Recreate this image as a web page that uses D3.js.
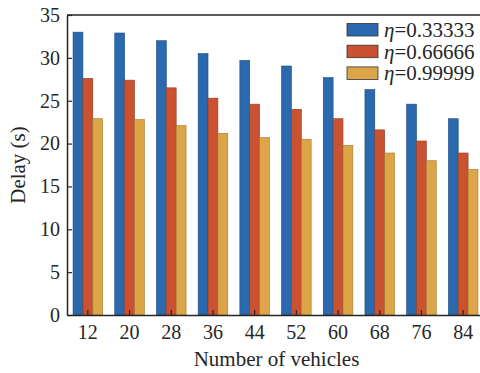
<!DOCTYPE html>
<html>
<head>
<meta charset="utf-8">
<script src="https://cdn.jsdelivr.net/npm/d3@7"></script>
<style>
  body { margin: 0; background: #fff; }
  svg { display: block; font-family: "Liberation Serif", "Times New Roman", serif; }
</style>
</head>
<body>
<svg id="chart" width="480" height="373"></svg>
<script>
var vehicles = [12, 20, 28, 36, 44, 52, 60, 68, 76, 84];
var seriesNames = ["0.33333", "0.66666", "0.99999"];
var delay1 = [33.0, 32.9, 32.0, 30.5, 29.7, 29.05, 27.7, 26.3, 24.6, 22.9];
var delay2 = [27.6, 27.4, 26.5, 25.3, 24.6, 24.0, 22.9, 21.6, 20.3, 18.9];
var delay3 = [22.9, 22.8, 22.1, 21.2, 20.7, 20.5, 19.8, 18.9, 18.0, 17.0];
var yTicks = [0, 5, 10, 15, 20, 25, 30, 35];
var colors = ["#2a69ad", "#cb5230", "#dca548"];
var strokes = ["#1d4c80", "#8e3a22", "#a07832"];

var svg = d3.select("#chart");
var margin = {top: 15, left: 67, bottom: 58};
var plotRight = 484;
var height = 373 - margin.top - margin.bottom;

var series = [delay1, delay2, delay3];
var table = vehicles.map(function(v, i){
	return {vehicles: v, values: series.map(function(s){ return s[i]; })};
});

var x0 = d3.scaleBand().domain(vehicles).range([margin.left, plotRight]).paddingInner(0.29).paddingOuter(0.145);
var x1 = d3.scaleBand().domain([0, 1, 2]).range([0, x0.bandwidth()]);
var y = d3.scaleLinear().domain([0, 35]).range([margin.top + height, margin.top]);

// bars
var groups = svg.append("g").selectAll("g")
	.data(table)
	.enter().append("g")
	.attr("transform", function(d){ return "translate(" + x0(d.vehicles) + ",0)"; });

groups.selectAll("rect")
	.data(function(d){ return d.values; })
	.enter().append("rect")
	.attr("x", function(d, i){ return x1(i); })
	.attr("y", function(d){ return y(d); })
	.attr("width", x1.bandwidth())
	.attr("height", function(d){ return y(0) - y(d); })
	.style("fill", function(d, i){ return colors[i]; })
	.style("stroke", function(d, i){ return strokes[i]; })
	.style("stroke-width", 0.6);

// axes
var xAxis = svg.append("g")
	.attr("transform", "translate(0," + y(0) + ")")
	.call(d3.axisBottom(x0).tickSizeInner(-5).tickSizeOuter(0).tickPadding(10));
var yAxis = svg.append("g")
	.attr("transform", "translate(" + margin.left + ",0)")
	.call(d3.axisLeft(y).tickValues(yTicks).tickSizeInner(-5).tickSizeOuter(0).tickPadding(7));

[xAxis, yAxis].forEach(function(a){
	a.selectAll(".domain").style("stroke", "#262626").style("stroke-width", 1.5);
	a.selectAll(".tick line").style("stroke", "#262626").style("stroke-width", 1.2);
	a.selectAll("text").style("font-family", "Liberation Serif").style("font-size", "20px").style("fill", "#262626");
});

svg.append("line")
	.attr("x1", margin.left).attr("x2", plotRight)
	.attr("y1", margin.top).attr("y2", margin.top)
	.style("stroke", "#262626").style("stroke-width", 1.5);

// axis labels
svg.append("text")
	.attr("x", (margin.left + plotRight) / 2 + 1)
	.attr("y", 366)
	.attr("text-anchor", "middle")
	.style("font-size", "21px").style("fill", "#262626")
	.text("Number of vehicles");

svg.append("text")
	.attr("transform", "translate(25," + (margin.top + height / 2) + ") rotate(-90)")
	.attr("text-anchor", "middle")
	.style("font-size", "21px").style("fill", "#262626")
	.text("Delay (s)");

// legend
var legend = svg.append("g").selectAll("g")
	.data(seriesNames)
	.enter().append("g")
	.attr("transform", function(d, i){ return "translate(347," + (23.5 + i * 21.7) + ")"; });

legend.append("rect")
	.attr("width", 31).attr("height", 12.5)
	.style("fill", function(d, i){ return colors[i]; })
	.style("stroke", "#333").style("stroke-width", 0.8);

var lt = legend.append("text")
	.attr("x", 37).attr("y", 6.5)
	.attr("dominant-baseline", "central")
	.style("font-size", "21px").style("fill", "#262626");
lt.append("tspan").style("font-style", "italic").text("η");
lt.append("tspan").text(function(d){ return "=" + d; });
</script>
</body>
</html>
